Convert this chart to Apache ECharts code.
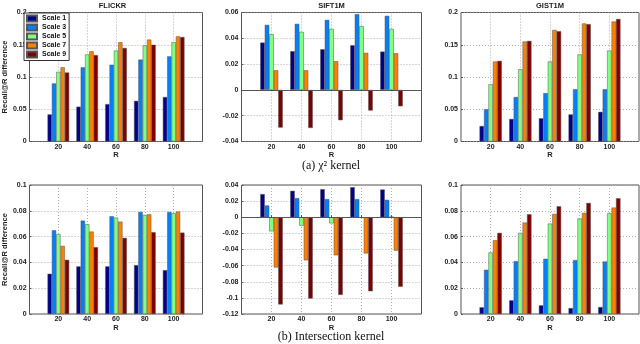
<!DOCTYPE html>
<html>
<head>
<meta charset="utf-8">
<script src="https://cdn.jsdelivr.net/npm/echarts@6/dist/echarts.min.js"></script>
<style>
html,body{margin:0;padding:0;background:#fff;}
#chart{width:640px;height:344px;}
</style>
</head>
<body>
<div id="chart"></div>
<script>
// ---- data ----
const categories = ['20', '40', '60', '80', '100'];
const scaleNames = ['Scale 1', 'Scale 3', 'Scale 5', 'Scale 7', 'Scale 9'];
const scaleColors = ['#00008F', '#0080FF', '#80FF80', '#FF8000', '#800000'];

// (a) chi^2 kernel
const chiFlickr = [
  [0.042, 0.054, 0.058, 0.063, 0.069],
  [0.090, 0.115, 0.119, 0.127, 0.132],
  [0.108, 0.135, 0.141, 0.149, 0.154],
  [0.115, 0.140, 0.154, 0.158, 0.163],
  [0.107, 0.134, 0.145, 0.150, 0.162]
];
const chiSift = [
  [0.0367, 0.0300, 0.0315, 0.0346, 0.0297],
  [0.0504, 0.0512, 0.0543, 0.0587, 0.0574],
  [0.0432, 0.0450, 0.0473, 0.0494, 0.0473],
  [0.0152, 0.0152, 0.0222, 0.0287, 0.0284],
  [-0.0292, -0.0295, -0.0235, -0.0160, -0.0127]
];
const chiGist = [
  [0.024, 0.035, 0.036, 0.042, 0.046],
  [0.050, 0.069, 0.075, 0.081, 0.081],
  [0.089, 0.112, 0.124, 0.135, 0.141],
  [0.124, 0.155, 0.173, 0.183, 0.186],
  [0.125, 0.156, 0.171, 0.182, 0.190]
];
// (b) Intersection kernel
const intFlickr = [
  [0.0312, 0.0369, 0.0369, 0.0379, 0.0340],
  [0.0649, 0.0724, 0.0758, 0.0791, 0.0791],
  [0.0619, 0.0696, 0.0747, 0.0768, 0.0781],
  [0.0528, 0.0639, 0.0716, 0.0773, 0.0794],
  [0.0420, 0.0518, 0.0590, 0.0634, 0.0631]
];
const intSift = [
  [0.0287, 0.0328, 0.0348, 0.0373, 0.0344],
  [0.0146, 0.0237, 0.0225, 0.0225, 0.0216],
  [-0.0175, -0.0105, -0.0076, -0.0006, 0.0006],
  [-0.0623, -0.0534, -0.0472, -0.0449, -0.0414],
  [-0.1082, -0.1008, -0.0963, -0.0918, -0.0862]
];
const intGist = [
  [0.0052, 0.0106, 0.0067, 0.0046, 0.0054],
  [0.0343, 0.0410, 0.0428, 0.0418, 0.0407],
  [0.0477, 0.0629, 0.0701, 0.0740, 0.0781],
  [0.0572, 0.0709, 0.0776, 0.0784, 0.0825],
  [0.0629, 0.0773, 0.0835, 0.0861, 0.0897]
];

const panelTitles = ['FLICKR', 'SIFT1M', 'GIST1M'];
const captions = ['(a) \u03c7\u00b2 kernel', '(b) Intersection kernel'];
const yLabel = 'Recall@R difference';

// ---- layout / build ----
const panels = [
  {data: chiFlickr, min: 0, max: 0.2, interval: 0.05, left: 22.5, top: 12.5, width: 180, zero: false},
  {data: chiSift, min: -0.04, max: 0.06, interval: 0.02, left: 241.5, top: 12.5, width: 180, zero: true},
  {data: chiGist, min: 0, max: 0.2, interval: 0.05, left: 461, top: 12.5, width: 178, zero: false},
  {data: intFlickr, min: 0, max: 0.1, interval: 0.02, left: 22.5, top: 185, width: 180, zero: false},
  {data: intSift, min: -0.12, max: 0.04, interval: 0.02, left: 241.5, top: 185, width: 180, zero: true},
  {data: intGist, min: 0, max: 0.1, interval: 0.02, left: 461, top: 185, width: 178, zero: false}
];
const padCats = ['0'].concat(categories, ['120']);
const inner = (i) => i > 0 && i < padCats.length - 1;
const fontFam = 'Arial, "Liberation Sans", Helvetica, sans-serif';

const grids = [], xAxes = [], yAxes = [], series = [];
panels.forEach((p, pi) => {
  grids.push({left: p.left, top: p.top, width: p.width, height: 129,
    show: true, borderColor: '#555', borderWidth: 1, backgroundColor: '#fff'});
  xAxes.push({
    type: 'category', gridIndex: pi, data: padCats, boundaryGap: false,
    axisLine: {show: false},
    axisTick: {show: true, inside: true, length: 2, interval: inner, lineStyle: {color: '#555'}},
    axisLabel: {interval: inner, fontSize: 7, fontWeight: 'bold', color: '#222', margin: 2, fontFamily: fontFam},
    splitLine: {show: true, interval: inner, lineStyle: {color: '#999', type: [1, 2], width: 0.8}},
    name: 'R', nameLocation: 'middle', nameGap: 7.5,
    nameTextStyle: {fontSize: 7.5, fontWeight: 'bold', color: '#222', fontFamily: fontFam}
  });
  const y = {
    type: 'value', gridIndex: pi, min: p.min, max: p.max, interval: p.interval,
    axisLine: {show: false},
    axisTick: {show: true, inside: true, length: 2, lineStyle: {color: '#555'}},
    axisLabel: {fontSize: 7, fontWeight: 'bold', color: '#222', margin: 3, fontFamily: fontFam},
    splitLine: {show: true, lineStyle: {color: '#999', type: [1, 2], width: 0.8}}
  };
  if (pi === 0 || pi === 3) {
    y.name = yLabel; y.nameLocation = 'middle'; y.nameGap = 13;
    y.nameTextStyle = {fontSize: 7.5, fontWeight: 'bold', color: '#222', fontFamily: fontFam};
  }
  yAxes.push(y);
  p.data.forEach((vals, si) => {
    const s = {
      type: 'bar', name: scaleNames[si], xAxisIndex: pi, yAxisIndex: pi,
      data: [null].concat(vals, [null]),
      barGap: '0%', barCategoryGap: '25%',
      itemStyle: {color: scaleColors[si], borderColor: '#555', borderWidth: 0.5},
      emphasis: {disabled: true}
    };
    if (p.zero && si === 0) {
      s.markLine = {silent: true, symbol: ['none', 'none'], label: {show: false},
        lineStyle: {color: '#555', type: 'solid', width: 1}, data: [{yAxis: 0}]};
    }
    series.push(s);
  });
});

const graphics = [];
const titleX = [112.5, 331.5, 550];
panelTitles.forEach((t, i) => {
  graphics.push({type: 'text', x: titleX[i], y: 6,
    style: {text: t, fontSize: 7.5, fontWeight: 'bold', fontFamily: fontFam, fill: '#222',
      align: 'center', verticalAlign: 'middle', textAlign: 'center', textVerticalAlign: 'middle'}});
});
const capY = [166, 337];
captions.forEach((t, i) => {
  graphics.push({type: 'text', x: 331, y: capY[i],
    style: {text: t, fontSize: 12, fontFamily: '"Liberation Serif", "Times New Roman", serif', fill: '#111',
      align: 'center', verticalAlign: 'middle', textAlign: 'center', textVerticalAlign: 'middle'}});
});

const chart = echarts.init(document.getElementById('chart'), null, {renderer: 'canvas'});
chart.setOption({
  animation: false,
  backgroundColor: '#fff',
  grid: grids,
  xAxis: xAxes,
  yAxis: yAxes,
  legend: {
    data: scaleNames, orient: 'vertical', left: 24, top: 13,
    itemWidth: 10, itemHeight: 6, itemGap: 1, icon: 'rect',
    padding: [1.5, 3, 2, 2], borderColor: '#333', borderWidth: 1, backgroundColor: '#fff',
    textStyle: {fontSize: 7, fontWeight: 'bold', color: '#111', lineHeight: 8, fontFamily: fontFam},
    selectedMode: false
  },
  graphic: graphics,
  series: series
});
</script>
</body>
</html>
